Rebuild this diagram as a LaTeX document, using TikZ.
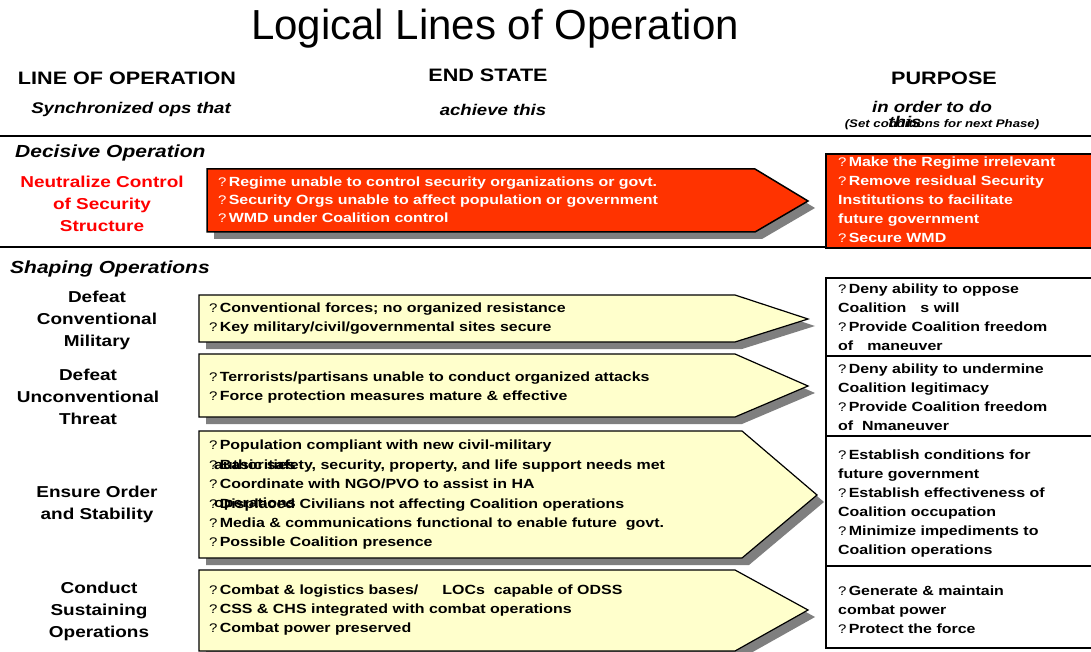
\documentclass[tikz,border=0pt]{standalone}
\usepackage{fontspec}
\setmainfont{Liberation Sans}[FakeStretch=1.2]
\newfontfamily\titlefont{Liberation Sans}
\definecolor{opred}{HTML}{FF3300}
\definecolor{opyellow}{HTML}{FFFFCC}
\definecolor{shade}{HTML}{7F7F7F}
\newcommand{\qm}{{\mdseries\fontsize{12.5}{11}\selectfont ?}\,}

\tikzset{
  hdr/.style={font=\bfseries\fontsize{18}{20}\selectfont},
  sub/.style={font=\bfseries\itshape\fontsize{15.5}{17}\selectfont},
  sect/.style={font=\bfseries\itshape\fontsize{17.5}{20}\selectfont, anchor=west, inner sep=0pt},
  lineop/.style={font=\bfseries\fontsize{15.8}{22}\selectfont, align=center},
  item/.style={font=\bfseries\fontsize{13.3}{19}\selectfont, align=left, anchor=north west, inner sep=0pt},
  dropshade/.style={fill=shade, draw=none},
  redshape/.style={fill=opred, draw=black, line width=1.5pt},
  yelshape/.style={fill=opyellow, draw=black, line width=1.2pt},
}

\begin{document}
\begin{tikzpicture}[x=1pt, y=-1pt]
\useasboundingbox (0,0) rectangle (1091,652);

\node[font=\titlefont\fontsize{42}{44}\selectfont] (title) at (495,29) {Logical Lines of Operation};

\node[hdr] (hloo) at (127,78) {LINE OF OPERATION};
\node[hdr] (hend) at (488,75) {END STATE};
\node[hdr] (hpur) at (944,78) {PURPOSE};
\node[sub] (sloo) at (131,109) {Synchronized ops that};
\node[sub] (send) at (493,110) {achieve this};
\node[sub] (spur) at (932,107) {in order to do};
\node[sub] (spurb) at (905,122) {this};
\node[font=\bfseries\itshape\fontsize{11}{12}\selectfont] (phase) at (942,125) {(Set conditions for next Phase)};

\draw[line width=2pt] (0,136) -- (1091,136);
\draw[line width=2pt] (0,247) -- (826,247);

% decisive operation
\node[sect] (decisive) at (15,153) {Decisive Operation};
\node[lineop, text=red] (neutral) at (102,204) {Neutralize Control\\of Security\\Structure};

\fill[dropshade] (214,176) -- (762,176) -- (815,208) -- (762,239) -- (214,239) -- cycle;
\draw[redshape] (207,169) -- (755,169) -- (808,201) -- (755,232) -- (207,232) -- cycle;
\node[item, text=white, font=\bfseries\fontsize{13.3}{18}\selectfont] (endred) at (218,177)
  {\qm Regime unable to control security organizations or govt.\\
   \qm Security Orgs unable to affect population or government\\
   \qm WMD under Coalition control};

\draw[fill=opred, draw=black, line width=1.2pt] (826,154) rectangle (1100,248);
\node[item, text=white] (purred) at (838,157)
  {\qm Make the Regime irrelevant\\
   \qm Remove residual Security\\
   Institutions to facilitate\\
   future government\\
   \qm Secure WMD};

% shaping operations
\node[sect] (shaping) at (10,269) {Shaping Operations};

\node[lineop] (conv) at (97,320) {Defeat\\Conventional\\Military};
\node[lineop] (unconv) at (88,397) {Defeat\\Unconventional\\Threat};
\node[lineop] (order) at (97,504) {Ensure Order\\and Stability};
\node[lineop] (sustain) at (99,611) {Conduct\\Sustaining\\Operations};

\fill[dropshade] (206,302) -- (742,302) -- (815,326) -- (742,349) -- (206,349) -- cycle;
\draw[yelshape] (199,295) -- (735,295) -- (808,319) -- (735,342) -- (199,342) -- cycle;
\node[item] (endconv) at (209,303)
  {\qm Conventional forces; no organized resistance\\
   \qm Key military/civil/governmental sites secure};

\fill[dropshade] (206,361) -- (742,361) -- (815,393) -- (742,424) -- (206,424) -- cycle;
\draw[yelshape] (199,354) -- (735,354) -- (808,386) -- (735,417) -- (199,417) -- cycle;
\node[item] (endunconv) at (209,372)
  {\qm Terrorists/partisans unable to conduct organized attacks\\
   \qm Force protection measures mature \& effective};

\fill[dropshade] (206,438) -- (749,438) -- (824,502) -- (749,565) -- (206,565) -- cycle;
\draw[yelshape] (199,431) -- (742,431) -- (817,495) -- (742,558) -- (199,558) -- cycle;
\node[item, font=\bfseries\fontsize{13.3}{19.4}\selectfont] (endorder) at (209,440)
  {\qm Population compliant with new civil-military\\
   \qm Basic safety, security, property, and life support needs met\\
   \qm Coordinate with NGO/PVO to assist in HA\\
   \qm Displaced Civilians not affecting Coalition operations\\
   \qm Media \& communications functional to enable future\ \ govt.\\
   \qm Possible Coalition presence};
\node[item] (auth) at (214,460) {authorities};
\node[item] (opers) at (214,498) {operations};

\fill[dropshade] (206,577) -- (742,577) -- (815,617) -- (742,658) -- (206,658) -- cycle;
\draw[yelshape] (199,570) -- (735,570) -- (808,610) -- (735,651) -- (199,651) -- cycle;
\node[item] (endsustain) at (209,585)
  {\qm Combat \& logistics bases/\hspace{24pt}LOCs\ \ capable of ODSS\\
   \qm CSS \& CHS integrated with combat operations\\
   \qm Combat power preserved};

% purpose boxes
\draw[line width=1.2pt] (826,278) rectangle (1100,648);
\draw[line width=1.2pt] (826,356) -- (1100,356);
\draw[line width=1.2pt] (826,436) -- (1100,436);
\draw[line width=1.2pt] (826,566) -- (1100,566);

\node[item] (purconv) at (838,284)
  {\qm Deny ability to oppose\\
   Coalition\hspace{14pt}s will\\
   \qm Provide Coalition freedom\\
   of\hspace{14pt}maneuver};
\node[item] (purunconv) at (838,364)
  {\qm Deny ability to undermine\\
   Coalition legitimacy\\
   \qm Provide Coalition freedom\\
   of\ \ Nmaneuver};
\node[item] (purorder) at (838,450)
  {\qm Establish conditions for\\
   future government\\
   \qm Establish effectiveness of\\
   Coalition occupation\\
   \qm Minimize impediments to\\
   Coalition operations};
\node[item] (pursustain) at (838,586)
  {\qm Generate \& maintain\\
   combat power\\
   \qm Protect the force};

\end{tikzpicture}
\end{document}
